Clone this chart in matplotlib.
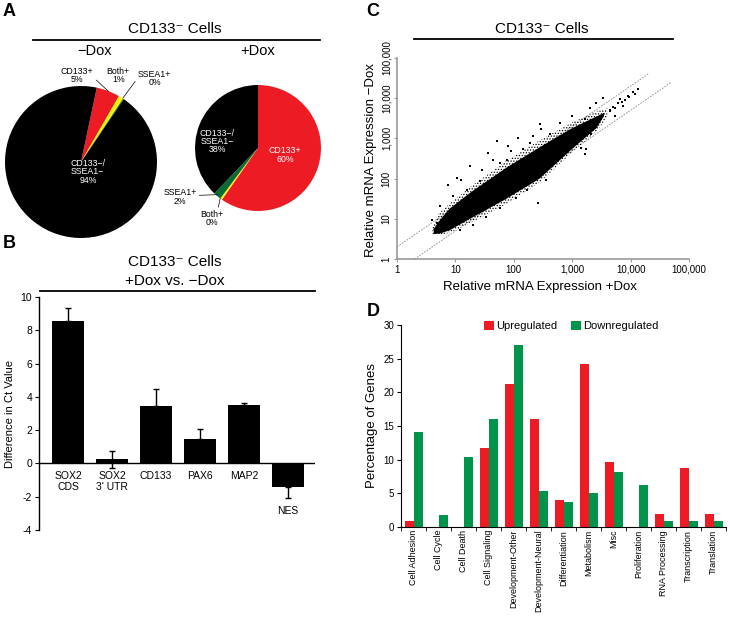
import numpy as np
import matplotlib
matplotlib.use('Agg')
import matplotlib.pyplot as plt
from matplotlib.lines import Line2D

plt.rcParams['font.family'] = ['Liberation Sans', 'DejaVu Sans']
plt.rcParams['axes.unicode_minus'] = False
plt.rcParams['hatch.linewidth'] = 0.6

# ---------------- data ----------------
# A: sorted populations (%), order: CD133+, Both+, SSEA1+, CD133-/SSEA1-
pie_colors = ['#ED1C24', '#FFF200', '#0B6B34', 'black']
minus_dox = [5, 1, 0.2, 94]
plus_dox = [60, 0.5, 2, 38]

# B: qPCR, difference in Ct (+Dox vs -Dox)
genes = ['SOX2\nCDS', "SOX2\n3' UTR", 'CD133', 'PAX6', 'MAP2', 'NES']
ct_diff = [8.55, 0.25, 3.45, 1.45, 3.5, -1.4]
err_lo = [0, 0.5, 0, 0, 0, 0.7]
err_hi = [0.8, 0.5, 1.05, 0.6, 0.15, 0]

# C: microarray scatter, dense cloud outline + sparse edge + individual outliers
core_x = [4.2, 5.5, 8, 20, 76, 277, 1000, 2600, 3500,
          3500, 2600, 1000, 277, 76, 20, 8, 5.5, 4.3]
core_y = [5.5, 9.5, 18, 50, 190, 600, 1800, 3500, 4300,
          3600, 1800, 550, 100, 32, 11, 5.2, 4.3, 4.2]
halo_x = [4.0, 5, 8, 20, 76, 277, 1000, 2600, 4000,
          4000, 2600, 1000, 277, 76, 20, 8, 5, 4.0]
halo_y = [6, 13, 24, 70, 280, 900, 2500, 4600, 5600,
          3300, 1500, 450, 80, 24, 8.5, 4.5, 3.9, 4.2]
out_x = [7.5, 10.5, 17.7, 36.5, 50.6, 118, 214, 261, 21.6, 15.5, 26.3, 75,
         144, 412, 973, 1995, 3370, 7400, 11000, 13400, 9000, 6500, 4370,
         1750, 1180, 537, 363, 165, 111, 57.5, 34, 20, 11.9, 4.8, 3.9, 5.4,
         9.2, 12.7, 28, 57.5, 91, 188, 297, 613, 1630, 2590, 5330, 2130,
         1440, 697, 243, 135, 70, 39, 26, 8.1, 6.2, 277, 80, 44, 1630,
         5000, 6000, 7000, 8000, 9500, 12000, 4500, 5500]
out_y = [71, 105, 204, 437, 853, 1047, 1148, 24.7, 36, 53, 86, 298,
         533, 1259, 3600, 5860, 10400, 6430, 13900, 16700, 11400, 9440, 4800,
         533, 950, 298, 94, 53, 33, 18.6, 11.4, 7.1, 5.3, 7.8, 9.4, 20.3,
         36, 94, 168, 247, 480, 780, 1680, 2470, 2990, 7800, 3620, 1260,
         590, 533, 185, 114, 64, 36, 25, 11.4, 5.9, 2240, 645, 298, 400,
         6000, 7500, 8200, 9000, 10500, 12500, 5200, 5600]
fold_up_x = [1, 20000]
fold_lo_x = [2, 50000]
tick_vals = [1, 10, 100, 1000, 10000, 100000]
tick_text = ['1', '10', '100', '1,000', '10,000', '100,000']

# D: functional categories of regulated genes (%)
categories = ['Cell Adhesion', 'Cell Cycle', 'Cell Death', 'Cell Signaling',
              'Development-Other', 'Development-Neural', 'Differentiation',
              'Metabolism', 'Misc', 'Proliferation', 'RNA Processing',
              'Transcription', 'Translation']
up = [0.9, 0, 0, 11.8, 21.3, 16.1, 4.0, 24.2, 9.7, 0, 1.9, 8.7, 2.0]
down = [14.1, 1.8, 10.4, 16.0, 27.1, 5.4, 3.75, 5.0, 8.2, 6.2, 0.95, 0.95, 0.95]

RED = '#ED1C24'
GREEN = '#00934A'

# ---------------- layout helpers (pixel -> figure fraction) ----------------
W, H = 730, 618
fig = plt.figure(figsize=(W / 100, H / 100), dpi=100)


def box(x0, y0, x1, y1):
    return [x0 / W, 1 - y1 / H, (x1 - x0) / W, (y1 - y0) / H]


def ftext(x, y, s, **kw):
    fig.text(x / W, 1 - y / H, s, **kw)


def fline(x0, x1, y):
    fig.add_artist(Line2D([x0 / W, x1 / W], [1 - y / H, 1 - y / H],
                          transform=fig.transFigure, color='black', lw=1.3))


for letter, (lx, ly) in zip('ABCD', [(9, 12), (9, 243), (373, 12), (373, 312)]):
    ftext(lx, ly, letter, fontsize=13, fontweight='bold', ha='center', va='center')

# ---------------- A: pies ----------------
ftext(175, 29, 'CD133⁻ Cells', fontsize=11, ha='center', va='center')
fline(33, 320, 40)
ftext(95, 51, '−Dox', fontsize=10.5, ha='center', va='center')
ftext(258, 51, '+Dox', fontsize=10.5, ha='center', va='center')

small = dict(fontsize=6.3, ha='center', va='center', linespacing=0.9)
line = dict(arrowstyle='-', lw=0.5, color='black', shrinkA=0, shrinkB=0)

ax_l = fig.add_axes(box(5, 86, 157, 238))
ax_l.pie(minus_dox, colors=pie_colors, startangle=78, counterclock=False,
         wedgeprops=dict(linewidth=0))
ax_l.set_xlim(-1, 1)
ax_l.set_ylim(-1, 1)
ax_l.annotate('CD133+\n5%', xy=(0.36, 0.93), xytext=(-0.05, 1.14),
              arrowprops=dict(relpos=(0.9, 0.55), **line), **small)
ax_l.text(0.49, 1.14, 'Both+\n1%', **small)
ax_l.annotate('SSEA1+\n0%', xy=(0.55, 0.84), xytext=(0.97, 1.1),
              arrowprops=dict(relpos=(0.0, 0.55), **line), **small)
ax_l.text(0.09, -0.13, 'CD133−/\nSSEA1−\n94%', color='white', **small)

ax_r = fig.add_axes(box(195, 85, 321, 211))
ax_r.pie(plus_dox, colors=pie_colors, startangle=90, counterclock=False,
         wedgeprops=dict(linewidth=0))
ax_r.set_xlim(-1, 1)
ax_r.set_ylim(-1, 1)
ax_r.text(-0.65, 0.10, 'CD133−/\nSSEA1−\n38%', color='white', **small)
ax_r.text(0.43, -0.11, 'CD133+\n60%', color='white', **small)
ax_r.annotate('SSEA1+\n2%', xy=(-0.64, -0.74), xytext=(-1.24, -0.78),
              arrowprops=dict(relpos=(1.0, 0.6), **line), **small)
ax_r.annotate('Both+\n0%', xy=(-0.6, -0.8), xytext=(-0.73, -1.12),
              arrowprops=dict(relpos=(0.75, 1.0), **line), **small)

# ---------------- B: qPCR bars ----------------
ftext(175, 262, 'CD133⁻ Cells', fontsize=11, ha='center', va='center')
ftext(175, 281, '+Dox vs. −Dox', fontsize=11, ha='center', va='center')
fline(40, 315, 291)

ax_b = fig.add_axes(box(39, 297, 315, 530))
xb = np.arange(len(genes))
ax_b.bar(xb, ct_diff, width=0.72, color='black',
         yerr=[err_lo, err_hi],
         error_kw=dict(ecolor='black', elinewidth=1, capsize=2.5, capthick=1))
ax_b.axhline(0, color='black', lw=1)
ax_b.set_xlim(-0.66, 5.61)
ax_b.set_ylim(-4, 10)
ax_b.set_xticks([])
ax_b.set_yticks(range(-4, 11, 2))
for s in ['top', 'right', 'bottom']:
    ax_b.spines[s].set_visible(False)
ax_b.spines['left'].set_linewidth(1)
ax_b.tick_params(axis='y', direction='out', length=3, labelsize=7.5, pad=2)
ax_b.set_ylabel('Difference in Ct Value', fontsize=8)
ax_b.yaxis.set_label_coords(-0.087, 0.5)
for xi, g, v, lo in zip(xb, genes, ct_diff, err_lo):
    ytxt = -0.45 if v >= 0 else v - lo - 0.45
    ax_b.text(xi, ytxt, g, ha='center', va='top', fontsize=7.5, linespacing=1.1)

# ---------------- C: scatter ----------------
ftext(542, 29, 'CD133⁻ Cells', fontsize=11, ha='center', va='center')
fline(414, 673, 39)

ax_c = fig.add_axes(box(397, 58, 689, 259))
ax_c.set_xscale('log')
ax_c.set_yscale('log')
fx_up = np.array(fold_up_x, dtype=float)
fx_lo = np.array(fold_lo_x, dtype=float)
ax_c.plot(fx_up, fx_up * 2, color='#888888', lw=0.6, ls=(0, (2, 1.5)), zorder=1)
ax_c.plot(fx_lo, fx_lo / 2, color='#888888', lw=0.6, ls=(0, (2, 1.5)), zorder=1)
ax_c.fill(halo_x, halo_y, facecolor='none', edgecolor='black', hatch='......',
          lw=0, zorder=2)
ax_c.fill(core_x, core_y, color='black', lw=0, zorder=3)
ax_c.scatter(out_x, out_y, s=0.8, c='black', marker='s', lw=0, zorder=3)
ax_c.set_xlim(1, 1e5)
ax_c.set_ylim(1, 1e5)
ax_c.set_xticks(tick_vals)
ax_c.set_xticklabels(tick_text)
ax_c.set_yticks(tick_vals)
ax_c.set_yticklabels(tick_text, rotation=90, va='center')
ax_c.minorticks_off()
for s in ['top', 'right']:
    ax_c.spines[s].set_visible(False)
for s in ['left', 'bottom']:
    ax_c.spines[s].set_color('#9a9a9a')
    ax_c.spines[s].set_linewidth(1.2)
ax_c.tick_params(direction='out', length=2, color='#9a9a9a', labelsize=7, pad=2)
ax_c.set_xlabel('Relative mRNA Expression +Dox', fontsize=9.5)
ax_c.set_ylabel('Relative mRNA Expression −Dox', fontsize=9.5)
ax_c.xaxis.set_label_coords(0.49, -0.11)
ax_c.yaxis.set_label_coords(-0.068, 0.49)

# ---------------- D: categories ----------------
ax_d = fig.add_axes(box(401, 325, 726, 527))
xd = np.arange(len(categories))
ax_d.bar(xd - 0.18, up, width=0.36, color=RED, label='Upregulated')
ax_d.bar(xd + 0.18, down, width=0.36, color=GREEN, label='Downregulated')
ax_d.set_xlim(-0.5, len(categories) - 0.5)
ax_d.set_ylim(0, 30)
ax_d.set_yticks(range(0, 31, 5))
ax_d.set_xticks(xd)
ax_d.set_xticklabels(categories, rotation=90, fontsize=6.5)
ax_d.set_xticks(np.arange(len(categories) + 1) - 0.5, minor=True)
ax_d.tick_params(axis='x', which='major', length=0, pad=2)
ax_d.tick_params(axis='x', which='minor', length=3, direction='out')
ax_d.tick_params(axis='y', direction='out', length=3, labelsize=7, pad=2)
for s in ['top', 'right']:
    ax_d.spines[s].set_visible(False)
ax_d.set_ylabel('Percentage of Genes', fontsize=9.5)
ax_d.yaxis.set_label_coords(-0.071, 0.5)
ax_d.legend(loc='center', bbox_to_anchor=(571 / W, 1 - 326 / H),
            bbox_transform=fig.transFigure, ncol=2, frameon=False,
            fontsize=8, handlelength=0.9, handleheight=0.9,
            handletextpad=0.2, columnspacing=1.2)

fig.savefig('out.png', dpi=100)
